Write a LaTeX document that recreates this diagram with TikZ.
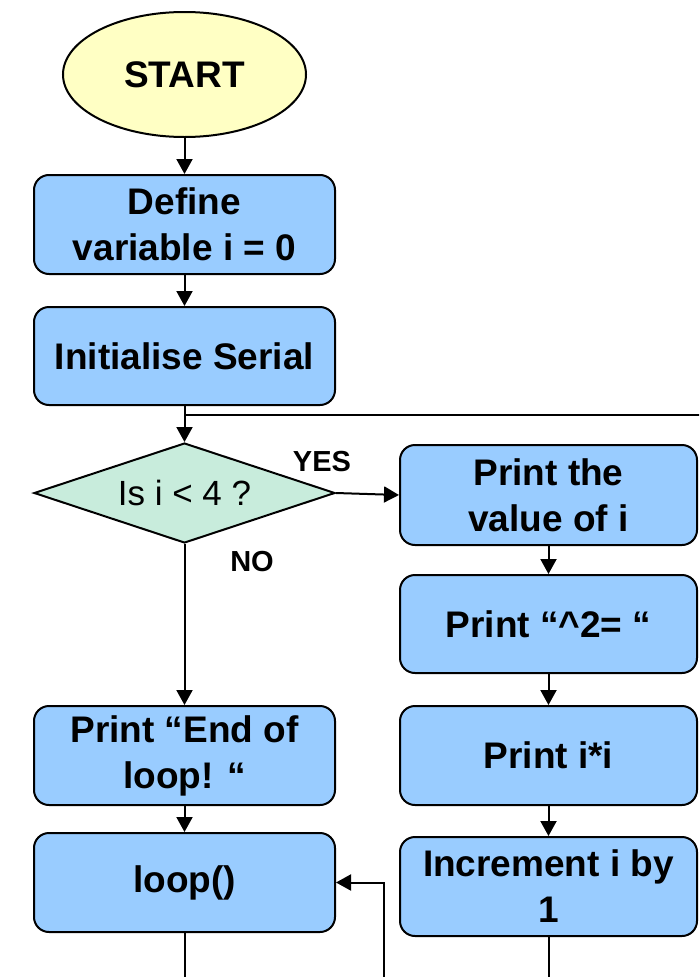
\documentclass[tikz,border=0pt]{standalone}
\usepackage{fontspec}
\setmainfont{Liberation Sans}
\usetikzlibrary{shapes.geometric,arrows.meta}
\definecolor{boxblue}{HTML}{99CCFF}
\definecolor{startyellow}{HTML}{FFFFC4}
\definecolor{decgreen}{HTML}{C8ECDC}
\tikzset{
  every node/.style={inner sep=2pt},
  procbox/.style={draw=black, line width=2pt, fill=boxblue, rounded corners=15pt,
    align=center, font=\fontsize{37}{46}\selectfont\bfseries},
  leftbox/.style={procbox, minimum width=301pt, minimum height=99pt},
  rightbox/.style={procbox, minimum width=297pt, minimum height=99pt},
  startnode/.style={draw=black, line width=2pt, fill=startyellow, ellipse,
    minimum width=243pt, minimum height=125pt, font=\fontsize{37}{46}\selectfont\bfseries},
  decision/.style={draw=black, line width=2pt, fill=decgreen, diamond, aspect=3,
    inner sep=0pt, minimum width=301pt, minimum height=100pt,
    font=\fontsize{35}{44}\selectfont},
  lbl/.style={font=\fontsize{29}{34}\selectfont\bfseries},
  conn/.style={line width=2pt, draw=black},
  arr/.style={conn, -{Triangle[length=15pt,width=16pt]}},
}
\begin{document}
\begin{tikzpicture}[x=1pt,y=-1pt]
\clip (0,0) rectangle (699,977);
\fill[white] (0,0) rectangle (699,977);

\node[startnode] (start) at (184.5,74.5) {START};
\node[leftbox] (define) at (184.5,224.5) {Define\\variable i = 0};
\node[leftbox, minimum height=98pt] (init) at (184.5,356) {Initialise Serial};
\node[decision] (dec) at (184.5,493) {Is i < 4 ?};
\node[lbl] (yes) at (322,462) {YES};
\node[lbl] (no) at (252,562) {NO};
\node[rightbox, minimum height=100pt] (pval) at (548.5,495) {Print the\\value of i};
\node[rightbox, minimum height=98pt] (psq) at (548.5,624) {Print “\textasciicircum 2= “};
\node[rightbox] (pii) at (548.5,755.5) {Print i*i};
\node[rightbox] (inc) at (548.5,886.5) {Increment i by\\1};
\node[leftbox] (pend) at (184.5,755.5) {Print “End of\\loop! “};
\node[leftbox] (loopn) at (184.5,882.5) {loop()};

\coordinate (jn) at (184.5,415);
\coordinate (jr) at (705,415);
\coordinate (lb) at (384,985);
\coordinate (lt) at (384,882.5);
\coordinate (loopout) at (184.5,985);
\coordinate (incout) at (551,985);

\draw[arr] (start) -- (define);
\draw[arr] (define) -- (init);
\draw[arr] (init) -- (dec);
\draw[conn] (jn) -- (jr);
\draw[arr] (dec.east) -- (pval.west);
\draw[arr] (dec) -- (pend);
\draw[arr] (pend) -- (loopn);
\draw[arr] (pval) -- (psq);
\draw[arr] (psq) -- (pii);
\draw[arr] (pii) -- (inc);
\draw[arr] (lb) -- (lt) -- (loopn.east);
\draw[conn] (loopn) -- (loopout);
\draw[conn] (inc.south) -- (inc.south |- incout);
\end{tikzpicture}
\end{document}
